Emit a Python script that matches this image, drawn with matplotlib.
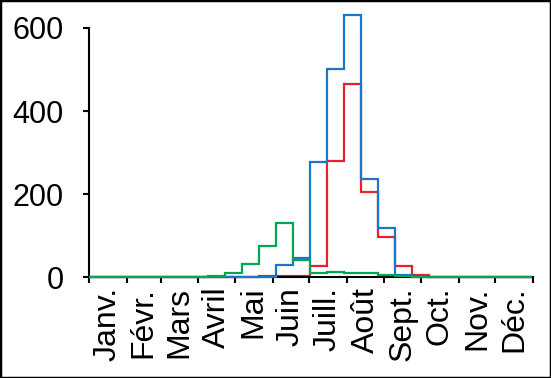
import numpy as np
import matplotlib
matplotlib.use("Agg")
import matplotlib.pyplot as plt
from matplotlib.patches import Rectangle

plt.rcParams['font.family'] = ['Liberation Sans', 'DejaVu Sans']

months = ['Janv.', 'Févr.', 'Mars', 'Avril', 'Mai', 'Juin',
          'Juill.', 'Août', 'Sept.', 'Oct.', 'Nov.', 'Déc.']
month_starts = [0, 31, 59, 90, 120, 151, 181, 212, 243, 273, 304, 334, 365]

# 14-day bins over the year
bin_edges = list(range(0, 365, 14))

blue = [0, 0, 0, 0, 0, 0, 0, 0, 0, 0, 0, 29, 46, 278, 501, 631,
        236, 119, 4, 0, 0, 0, 0, 0, 0, 0]
red = [0, 0, 0, 0, 0, 0, 0, 0, 0, 0, 3, 2, 2, 27, 280, 464,
       204, 97, 27, 5, 1, 0, 0, 0, 0, 0]
green = [0, 0, 0, 0, 0, 0, 0, 2, 9, 31, 75, 131, 41, 10, 13, 11,
         9, 4, 2, 1, 0, 0, 0, 0, 0, 0]


def main():
    fig = plt.figure(figsize=(5.51, 3.78), dpi=100)
    ax = fig.add_axes([0.1615, 0.267, 0.8055, 0.659])

    ax.stairs(red, bin_edges, color='#e8202a', lw=1.6, zorder=2, clip_on=False)
    ax.stairs(blue, bin_edges, color='#1b75c8', lw=1.6, zorder=3, clip_on=False)
    ax.stairs(green, bin_edges, color='#00a651', lw=1.6, zorder=4, clip_on=False)

    ax.set_xlim(0, 365)
    ax.set_ylim(0, 600)
    ax.set_yticks([0, 200, 400, 600])

    ax.set_xticks(month_starts)
    ax.set_xticklabels([])
    mids = [(a + b) / 2 for a, b in zip(month_starts[:-1], month_starts[1:])]
    ax.set_xticks(mids, minor=True)
    ax.set_xticklabels(months, minor=True, rotation=90, fontsize=23)
    ax.tick_params(axis='x', which='minor', length=0, pad=7)
    ax.tick_params(axis='x', which='major', length=4, width=1.5, direction='out')
    ax.tick_params(axis='y', length=4, width=1.5, direction='out', pad=14,
                   labelsize=22)

    for s in ['top', 'right']:
        ax.spines[s].set_visible(False)
    for s in ['left', 'bottom']:
        ax.spines[s].set_linewidth(1.5)

    fig.patches.append(Rectangle((0, 0), 1, 1, transform=fig.transFigure,
                                 fill=False, ec='black', lw=2.5))

    fig.savefig('out.png', dpi=100)


main()
